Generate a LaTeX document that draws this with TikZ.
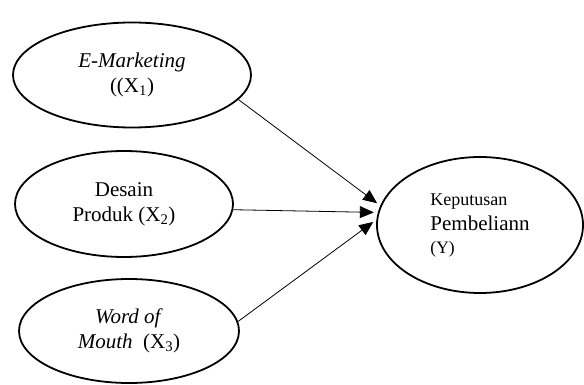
\documentclass[tikz,border=0pt]{standalone}
\usepackage{fontspec}
\setmainfont{Liberation Serif}
\usetikzlibrary{arrows.meta,shapes.geometric}

\begin{document}
\begin{tikzpicture}[x=1pt,y=-1pt,
    var/.style={ellipse,draw=black,line width=1.8pt,inner sep=0pt,align=center,
      font=\fontsize{21}{25}\selectfont},
    link/.style={line width=0.8pt,-{Triangle[length=14pt,width=12pt]},shorten >=4pt},
    black]
    \useasboundingbox (0,0) rectangle (584,385);
    \node[var,minimum width=238pt,minimum height=105pt] (x1) at (132, 75)
      {\textit{E-Marketing}\\((X\textsubscript{1})};
    \node[var,minimum width=218pt,minimum height=106pt] (x2) at (124, 204)
      {Desain\\Produk (X\textsubscript{2})};
    \node[var,minimum width=220pt,minimum height=104pt] (x3) at (129, 331)
      {\textit{Word of}\\\textit{Mouth}\ \ (X\textsubscript{3})};
    \node[var,align=left,minimum width=206pt,minimum height=136pt] (y) at (480, 225)
      {{\fontsize{18}{22}\selectfont Keputusan}\\
       Pembeliann\\[-2pt]
       {\fontsize{17.5}{20}\selectfont (Y)}};
    \draw[link] (x1.-13) -- (y.169);
    \draw[link] (x2.-3) -- (y.173.5);
    \draw[link] (x3.5) -- (y.177);
\end{tikzpicture}
\end{document}
